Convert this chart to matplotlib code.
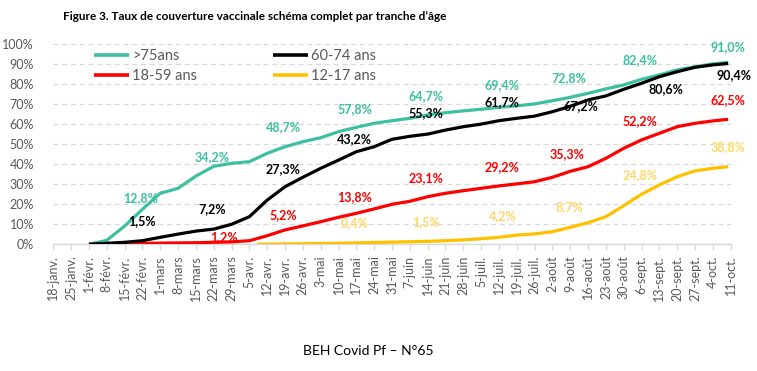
import numpy as np
import pandas as pd
import matplotlib
matplotlib.use("Agg")
import matplotlib.pyplot as plt

plt.rcParams['font.family'] = ['Lato', 'DejaVu Sans']

# ---------------- data ----------------
tick_labels = ['18-janv.', '25-janv.', '1-févr.', '8-févr.', '15-févr.', '22-févr.',
               '1-mars', '8-mars', '15-mars', '22-mars', '29-mars', '5-avr.',
               '12-avr.', '19-avr.', '26-avr.', '3-mai', '10-mai', '17-mai',
               '24-mai', '31-mai', '7-juin', '14-juin', '21-juin', '28-juin',
               '5-juil.', '12-juil.', '19-juil.', '26-juil.', '2-août', '9-août',
               '16-août', '23-août', '30-août', '6-sept.', '13-sept.', '20-sept.',
               '27-sept.', '4-oct.', '11-oct.']
tick_dates = pd.date_range('2021-01-18', '2021-10-11', freq='7D')

# weekly dates from 1 Feb, plus last data day
dates_main = list(pd.date_range('2021-02-01', '2021-10-04', freq='7D')) + [pd.Timestamp('2021-10-10')]
dates_1217 = [pd.Timestamp('2021-04-08')] + list(pd.date_range('2021-04-12', '2021-10-04', freq='7D')) + [pd.Timestamp('2021-10-10')]

over75 = [0, 2, 9.1, 17.5, 25.5, 28, 34.1, 39, 40.5, 41.3, 45.5, 48.8, 51.3, 53.3,
          56.3, 58.5, 60.5, 61.8, 63, 64.7, 65.8, 66.7, 67.5, 68.5, 69.2, 70.2,
          71.8, 73.5, 75.5, 77.7, 79.7, 82.5, 84.7, 87.2, 88.8, 90.2, 91.0]
age6074 = [0, 0.5, 1, 1.8, 3.5, 5.1, 6.6, 7.6, 10, 13.8, 22.1, 28.8, 33.5, 38,
           42.1, 46.3, 48.8, 52.5, 54, 55.1, 57.1, 58.8, 60.1, 61.8, 63, 64.1,
           66.3, 69, 72.2, 74.2, 77.5, 80.5, 83.8, 86.3, 88.5, 89.7, 90.4]
age1859 = [0, 0.2, 0.3, 0.5, 0.6, 0.7, 0.8, 1.0, 1.2, 1.8, 4.3, 7.2, 9.2, 11.3,
           13.5, 15.5, 17.7, 20, 21.5, 23.8, 25.5, 26.8, 28, 29.2, 30.2, 31.3,
           33.5, 36.5, 38.8, 43, 48, 52.2, 55.5, 58.8, 60.5, 61.7, 62.5]
age1217 = [0, 0.1, 0.2, 0.3, 0.4, 0.5, 0.7, 0.9, 1.1, 1.3, 1.5, 1.8, 2.2, 2.8,
           3.5, 4.6, 5.2, 6.3, 8.5, 10.8, 13.8, 19.3, 25, 29.7, 33.8, 36.7, 38, 38.8]

series_names = ['>75ans', '60-74 ans', '18-59 ans', '12-17 ans']

# data labels (text)
labels_over75 = ['12,8%', '34,2%', '48,7%', '57,8%', '64,7%', '69,4%', '72,8%', '82,4%', '91,0%']
labels_6074 = ['1,5%', '7,2%', '27,3%', '43,2%', '55,3%', '61,7%', '67,2%', '80,6%', '90,4%']
labels_1859 = ['1,2%', '5,2%', '13,8%', '23,1%', '29,2%', '35,3%', '52,2%', '62,5%']
labels_1217 = ['0,4%', '1,5%', '4,2%', '8,7%', '24,8%', '38,8%']

# ---------------- layout (label placement: day offset from 18-janv, y in %) ----------------
pos_over75 = [(34.1, 23), (62.3, 43.8), (90.4, 58.5), (118.6, 67.7), (146.2, 74.3),
              (176.3, 79.7), (202.5, 83), (230.4, 92.2), (264.8, 98.5)]
pos_6074 = [(34.8, 11.7), (62.3, 17.5), (90.4, 37.5), (118.4, 52.7), (146.2, 65.5),
            (176.3, 71.3), (207.1, 69.2), (240.5, 77.5), (267.4, 84.7)]
pos_1859 = [(66.9, 3.5), (90.4, 14.7), (118.4, 23.8), (146.2, 33), (176.3, 38.8),
            (201.9, 45.2), (230.4, 61.8), (264.8, 72.2)]
pos_1217 = [(118.4, 10.5), (146.2, 11.3), (176.3, 14.3), (202.5, 18.8), (230.4, 34.7),
            (264.8, 48.8)]

c_teal = '#3DBFA2'
c_black = '#000000'
c_red = '#FF0000'
c_yel = '#FFC000'
c_yel_lbl = '#FFD766'

# ---------------- figure ----------------
fig = plt.figure(figsize=(7.57, 3.71), dpi=100)
ax = fig.add_axes([53.3 / 757, 1 - 244.3 / 371, (730.7 - 53.3) / 757, 200 / 371])

t0 = pd.Timestamp('2021-01-18')
def days(ds):
    return [(pd.Timestamp(d) - t0).days for d in ds]

x_main = days(dates_main)
x_1217 = days(dates_1217)

lw = 2.3
h1, = ax.plot(x_main, over75, color=c_teal, lw=lw, solid_capstyle='butt', zorder=3)
h2, = ax.plot(x_main, age6074, color=c_black, lw=lw, solid_capstyle='butt', zorder=4)
h3, = ax.plot(x_main, age1859, color=c_red, lw=lw, solid_capstyle='butt', zorder=3)
h4, = ax.plot(x_1217, age1217, color=c_yel, lw=lw, solid_capstyle='butt', zorder=3)

for texts, poss, col in [(labels_over75, pos_over75, c_teal),
                         (labels_6074, pos_6074, c_black),
                         (labels_1859, pos_1859, c_red),
                         (labels_1217, pos_1217, c_yel_lbl)]:
    for t, (xd, yv) in zip(texts, poss):
        ax.text(xd, yv, t, color=col, fontsize=9, fontweight='bold',
                ha='center', va='center', zorder=5)

ax.set_xlim(0, 266)
ax.set_ylim(0, 100)
ax.set_yticks(np.arange(0, 101, 10))
ax.set_yticklabels([f'{v}%' for v in range(0, 101, 10)])
ax.set_xticks(days(tick_dates))
ax.set_xticklabels(tick_labels, rotation=90)

ax.grid(axis='y', color='#D9D9D9', linestyle=(0, (4, 3)), linewidth=0.9)
ax.set_axisbelow(True)
for s in ['top', 'right', 'left']:
    ax.spines[s].set_visible(False)
ax.spines['bottom'].set_color('#D9D9D9')
ax.spines['bottom'].set_linewidth(1.0)
ax.tick_params(axis='y', length=0, pad=14, labelsize=9, labelcolor='#595959')
ax.tick_params(axis='x', length=4, width=1.0, color='#D9D9D9', direction='out',
               pad=4, labelsize=9, labelcolor='#595959')

leg = ax.legend([h1, h3, h2, h4], [series_names[0], series_names[2], series_names[1], series_names[3]],
                ncol=2, loc='upper left', bbox_to_anchor=(94 / 757, 1 - 49 / 371),
                bbox_transform=fig.transFigure, frameon=False, fontsize=10.5,
                handlelength=2.4, handletextpad=0.2, columnspacing=5.2,
                labelspacing=0.4, borderpad=0, borderaxespad=0)
for t in leg.get_texts():
    t.set_color('#595959')
for l in leg.get_lines():
    l.set_linewidth(2.6)

fig.text(255 / 757, 1 - 16 / 371, 'Figure 3. Taux de couverture vaccinale schéma complet par tranche d’âge',
         ha='center', va='center', fontsize=8.5, fontweight='bold', color='#000000')
fig.text(368 / 757, 1 - 351 / 371, 'BEH Covid Pf – N°65', ha='center', va='center',
         fontsize=10, color='#000000')

fig.savefig('out.png', dpi=100)
